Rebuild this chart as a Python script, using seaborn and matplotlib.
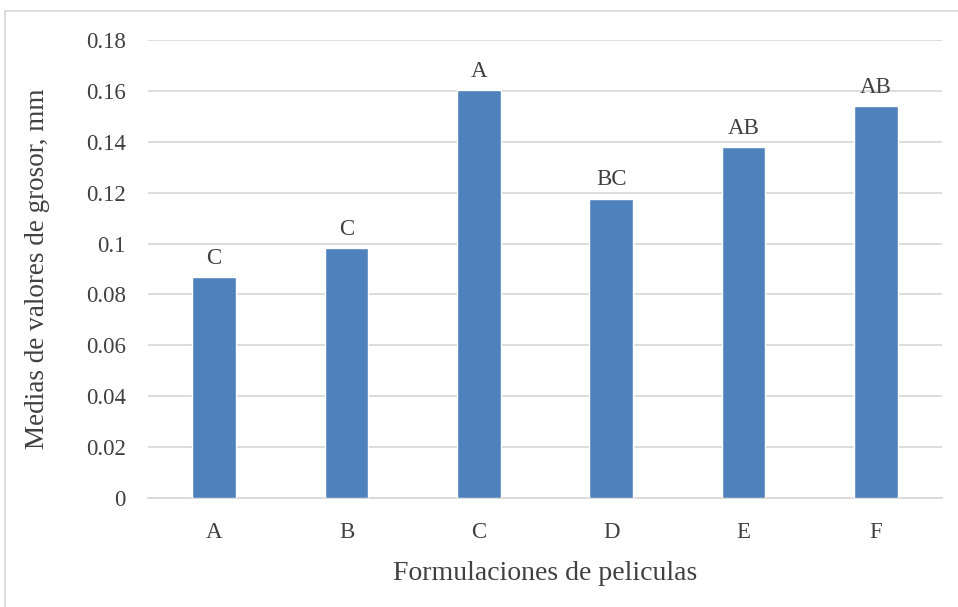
import matplotlib
matplotlib.use("Agg")
import matplotlib.pyplot as plt
from matplotlib.patches import Rectangle
import seaborn as sns
import pandas as pd

formulaciones = ["A", "B", "C", "D", "E", "F"]
grosor = [0.0868, 0.0983, 0.1603, 0.1176, 0.1378, 0.1540]
letras = ["C", "C", "A", "BC", "AB", "AB"]
yticks = [0, 0.02, 0.04, 0.06, 0.08, 0.1, 0.12, 0.14, 0.16, 0.18]
ytick_labels = ["0", "0.02", "0.04", "0.06", "0.08", "0.1", "0.12", "0.14", "0.16", "0.18"]

sns.set_theme(style="white")
plt.rcParams["font.family"] = ["Liberation Serif", "DejaVu Serif"]

text_color = "#404040"
grid_color = "#D9D9D9"
bar_color = "#4F81BD"

df = pd.DataFrame({"formulacion": formulaciones, "grosor": grosor})

fig = plt.figure(figsize=(9.58, 6.07), dpi=100)
ax = fig.add_axes([148 / 958, 1 - 498 / 607, (942 - 148) / 958, (498 - 40) / 607])

sns.barplot(data=df, x="formulacion", y="grosor", color=bar_color,
            saturation=1, width=0.33, ax=ax, zorder=3)

ax.set_ylim(0, 0.18)
ax.set_xlim(-0.5, len(formulaciones) - 0.5)
ax.set_yticks(yticks)
ax.set_yticklabels(ytick_labels)
ax.yaxis.grid(True, color=grid_color, linewidth=1.3, zorder=0)
ax.xaxis.grid(False)
for side in ["top", "right", "left"]:
    ax.spines[side].set_visible(False)
ax.spines["bottom"].set_color(grid_color)
ax.spines["bottom"].set_linewidth(1.3)
ax.tick_params(axis="both", length=0, labelsize=16.5, colors=text_color)
ax.tick_params(axis="y", pad=16)
ax.tick_params(axis="x", pad=17)

ax.set_xlabel("Formulaciones de peliculas", fontsize=20, color=text_color, labelpad=13)
ax.set_ylabel("Medias de valores de grosor, mm", fontsize=19.5, color=text_color, labelpad=26)

for i, (v, lab) in enumerate(zip(grosor, letras)):
    ax.annotate(lab, (i, v), xytext=(0, 6), textcoords="offset points",
                ha="center", va="bottom", fontsize=16.5, color=text_color)

# chart frame
fig.patches.append(Rectangle((5 / 958, -0.01), 1.0, 1 - 11 / 607 + 0.01,
                             transform=fig.transFigure, fill=False,
                             edgecolor=grid_color, linewidth=1.3))

fig.savefig("out.png", dpi=100)
